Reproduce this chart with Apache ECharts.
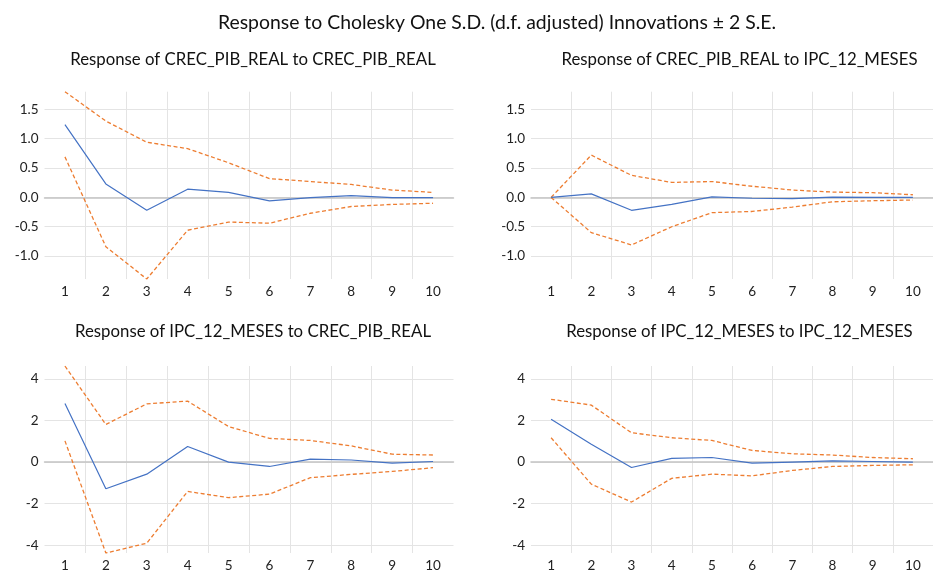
<!DOCTYPE html>
<html>
<head>
<meta charset="utf-8">
<script src="https://cdn.jsdelivr.net/npm/echarts@6/dist/echarts.min.js"></script>
<style>
  html, body { margin: 0; padding: 0; background: #ffffff; }
  #chart { width: 933px; height: 573px; }
</style>
</head>
<body>
<div id="chart"></div>
<script>
// Impulse-response periods
const periods = ['1', '2', '3', '4', '5', '6', '7', '8', '9', '10'];

// Response of CREC_PIB_REAL to CREC_PIB_REAL
const gdpToGdp      = [1.24, 0.23, -0.22, 0.14, 0.085, -0.06, -0.005, 0.03, -0.005, -0.005];
const gdpToGdpUp    = [1.80, 1.30, 0.94, 0.83, 0.59, 0.32, 0.27, 0.22, 0.125, 0.085];
const gdpToGdpLo    = [0.69, -0.84, -1.39, -0.56, -0.42, -0.44, -0.27, -0.155, -0.12, -0.10];

// Response of CREC_PIB_REAL to IPC_12_MESES
const gdpToCpi      = [0, 0.06, -0.22, -0.12, 0.01, -0.015, -0.02, 0.005, 0, 0];
const gdpToCpiUp    = [0, 0.72, 0.375, 0.255, 0.27, 0.19, 0.125, 0.09, 0.08, 0.045];
const gdpToCpiLo    = [0, -0.60, -0.81, -0.50, -0.26, -0.24, -0.165, -0.075, -0.057, -0.045];

// Response of IPC_12_MESES to CREC_PIB_REAL
const cpiToGdp      = [2.82, -1.28, -0.58, 0.75, 0.0, -0.21, 0.14, 0.10, -0.05, 0.03];
const cpiToGdpUp    = [4.62, 1.81, 2.80, 2.93, 1.71, 1.14, 1.04, 0.78, 0.38, 0.34];
const cpiToGdpLo    = [1.02, -4.37, -3.90, -1.41, -1.71, -1.54, -0.75, -0.59, -0.45, -0.27];

// Response of IPC_12_MESES to IPC_12_MESES
const cpiToCpi      = [2.06, 0.86, -0.26, 0.18, 0.22, -0.05, 0.0, 0.06, 0.03, 0.0];
const cpiToCpiUp    = [3.02, 2.74, 1.41, 1.17, 1.04, 0.56, 0.40, 0.34, 0.22, 0.16];
const cpiToCpiLo    = [1.17, -1.06, -1.92, -0.78, -0.58, -0.66, -0.40, -0.21, -0.16, -0.13];

// Tick values of the value axes
const gdpTicks = [-1.0, -0.5, 0.0, 0.5, 1.0, 1.5];
const cpiTicks = [-4, -2, 0, 2, 4];

const mainTitle = 'Response to Cholesky One S.D. (d.f. adjusted) Innovations \u00B1 2 S.E.';
const panelTitles = [
  'Response of CREC_PIB_REAL to CREC_PIB_REAL',
  'Response of CREC_PIB_REAL to IPC_12_MESES',
  'Response of IPC_12_MESES to CREC_PIB_REAL',
  'Response of IPC_12_MESES to IPC_12_MESES'
];

// Each row of panels shares one scale, bounded by its data
const rowExtent = (arrs) => {
  const all = [].concat(...arrs);
  return [Math.min(...all), Math.max(...all)];
};
const topRange = rowExtent([gdpToGdp, gdpToGdpUp, gdpToGdpLo, gdpToCpi, gdpToCpiUp, gdpToCpiLo]);
const botRange = rowExtent([cpiToGdp, cpiToGdpUp, cpiToGdpLo, cpiToCpi, cpiToCpiUp, cpiToCpiLo]);

const FONT = 'Lato, "Open Sans", sans-serif';
const panels = [
  { left: 44.5, top: 91.7, range: topRange, ticks: gdpTicks, dec: 1, data: [gdpToGdp, gdpToGdpUp, gdpToGdpLo] },
  { left: 531,  top: 91.7, range: topRange, ticks: gdpTicks, dec: 1, data: [gdpToCpi, gdpToCpiUp, gdpToCpiLo] },
  { left: 44.5, top: 366,  range: botRange, ticks: cpiTicks, dec: 0, data: [cpiToGdp, cpiToGdpUp, cpiToGdpLo] },
  { left: 531,  top: 366,  range: botRange, ticks: cpiTicks, dec: 0, data: [cpiToCpi, cpiToCpiUp, cpiToCpiLo] }
];
const GW = 409, GH = 187.3;

const grid = [], xAxis = [], yAxis = [], series = [], title = [];

title.push({
  text: mainTitle, left: 492, top: 8, textAlign: 'center',
  textStyle: { fontFamily: FONT, fontSize: 19.4, fontWeight: 'normal', color: '#111' }
});

panels.forEach((p, i) => {
  grid.push({ left: p.left, top: p.top, width: GW, height: GH });
  title.push({
    text: panelTitles[i], left: p.left + GW / 2 - 1, top: p.top - (i < 2 ? 46 : 47.5), textAlign: 'center',
    textStyle: { fontFamily: FONT, fontSize: 16.8, fontWeight: 'normal', color: '#111' }
  });
  // labelled category axis at the bottom of the panel
  xAxis.push({
    type: 'category', gridIndex: i, data: periods, boundaryGap: true,
    axisLine: { show: false, onZero: false }, axisTick: { show: false },
    axisLabel: { fontFamily: FONT, fontSize: 13.5, color: '#222', margin: 6 },
    splitLine: { show: true, showMinLine: false, showMaxLine: false, lineStyle: { color: '#e4e4e4', width: 1 } }
  });
  // zero reference line
  xAxis.push({
    type: 'category', gridIndex: i, data: periods, boundaryGap: true, position: 'bottom',
    axisLine: { show: true, onZero: true, lineStyle: { color: '#c4c4c4', width: 1.5 } },
    axisTick: { show: false }, axisLabel: { show: false }, splitLine: { show: false }
  });
  yAxis.push({
    type: 'value', gridIndex: i, min: p.range[0], max: p.range[1],
    axisLine: { show: false }, axisTick: { show: false, customValues: p.ticks },
    axisLabel: {
      customValues: p.ticks, fontFamily: FONT, fontSize: 13.5, color: '#222', margin: 6,
      formatter: (v) => Number(v).toFixed(p.dec)
    },
    splitLine: { show: true, lineStyle: { color: '#e4e4e4', width: 1 } }
  });
  const common = { type: 'line', xAxisIndex: 2 * i, yAxisIndex: i, symbol: 'none', silent: true, animation: false };
  series.push(Object.assign({}, common, { data: p.data[1], lineStyle: { color: '#ED7D31', width: 1.3, type: [4, 2.5] }, z: 3 }));
  series.push(Object.assign({}, common, { data: p.data[2], lineStyle: { color: '#ED7D31', width: 1.3, type: [4, 2.5] }, z: 3 }));
  series.push(Object.assign({}, common, { data: p.data[0], lineStyle: { color: '#4472C4', width: 1.2 }, z: 4 }));
});

const chart = echarts.init(document.getElementById('chart'), null, { renderer: 'canvas' });
chart.setOption({ animation: false, backgroundColor: '#ffffff', title, grid, xAxis, yAxis, series });
</script>
</body>
</html>
